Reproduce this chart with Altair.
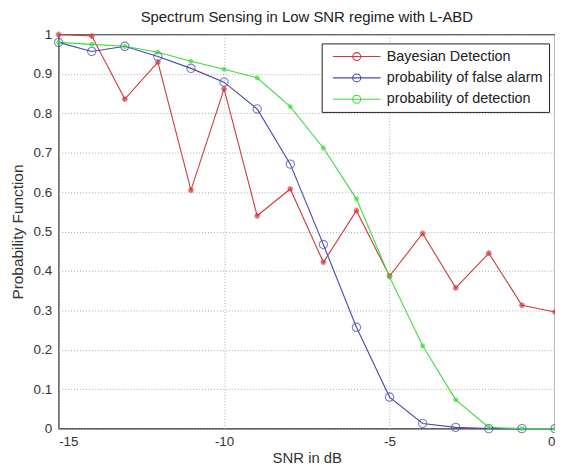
import altair as alt
import pandas as pd

snr = [-15, -14, -13, -12, -11, -10, -9, -8, -7, -6, -5, -4, -3, -2, -1, 0]
bayesian = [1.0, 0.996, 0.836, 0.93, 0.605, 0.862, 0.54, 0.608, 0.422, 0.553, 0.387, 0.495, 0.357, 0.445, 0.313, 0.296]
false_alarm = [0.98, 0.957, 0.97, 0.944, 0.914, 0.879, 0.811, 0.671, 0.467, 0.257, 0.08, 0.013, 0.003, 0.0, 0.0, 0.0]
detection = [0.98, 0.975, 0.97, 0.955, 0.932, 0.912, 0.89, 0.817, 0.712, 0.583, 0.385, 0.21, 0.073, 0.003, 0.0, 0.0]

names = ["Bayesian Detection", "probability of false alarm", "probability of detection"]
colors = ["#d03a3a", "#4848b4", "#3cdc3c"]

rows = []
for name, vals in zip(names, [bayesian, false_alarm, detection]):
    for s, v in zip(snr, vals):
        rows.append({"snr": s, "value": v, "series": name})
df = pd.DataFrame(rows)

FONT = "Liberation Sans"
asterisk = "M-1,0H1M0,-1V1M-0.7,-0.7L0.7,0.7M-0.7,0.7L0.7,-0.7"
legend_sym = "M-1,0H11M4,0A1,1 0 1,1 6,0A1,1 0 1,1 4,0"

x = alt.X("snr:Q", title="SNR in dB",
          scale=alt.Scale(domain=[-15, 0], nice=False, zero=False),
          axis=alt.Axis(values=[-15, -10, -5, 0], labelExpr="'' + datum.value", grid=True))
y = alt.Y("value:Q", title="Probability Function",
          scale=alt.Scale(domain=[0, 1], nice=False),
          axis=alt.Axis(values=[0, 0.1, 0.2, 0.3, 0.4, 0.5, 0.6, 0.7, 0.8, 0.9, 1.0], format="~g", grid=True))

base = alt.Chart(df)

lines = base.mark_line(strokeWidth=1.1).encode(
    x=x, y=y,
    color=alt.Color("series:N", scale=alt.Scale(domain=names, range=colors),
                    legend=alt.Legend(title=None, orient="none", legendX=265, legendY=9,
                                      direction="vertical", columns=1,
                                      symbolType=legend_sym, symbolSize=64,
                                      symbolStrokeWidth=1.1, symbolOffset=2,
                                      labelOffset=43, labelFontSize=14.5, labelFont=FONT,
                                      labelAlign="left",
                                      labelColor="#222", strokeColor="#222", fillColor="white",
                                      padding=6, rowPadding=6.5, labelLimit=300)),
    order="snr:Q",
)

red_pts = base.transform_filter(alt.datum.series == names[0]).mark_point(
    shape=asterisk, size=34, color=colors[0], filled=False, strokeWidth=1.5
).encode(x=x, y=y)

blue_pts = base.transform_filter(alt.datum.series == names[1]).mark_point(
    shape="circle", size=70, color=colors[1], filled=False, strokeWidth=1.1
).encode(x=x, y=y)

green_pts = base.transform_filter(alt.datum.series == names[2]).mark_point(
    shape=asterisk, size=24, color=colors[2], filled=False, strokeWidth=1.5
).encode(x=x, y=y)

chart = alt.layer(lines, red_pts, blue_pts, green_pts).properties(
    width=500, height=397,
    title=alt.TitleParams("Spectrum Sensing in Low SNR regime with L-ABD", fontSize=15,
                          fontWeight="normal", font=FONT, color="#222", offset=3),
    autosize=alt.AutoSizeParams(type="none"),
    padding={"left": 51, "top": 25, "right": 0, "bottom": 36},
).configure_view(stroke="#222", strokeWidth=1.2).configure_axis(
    domain=False, ticks=False, gridColor="#aaa", gridDash=[1, 2], gridWidth=1,
    labelFont=FONT, labelFontSize=13.5, labelColor="#333", titleFont=FONT,
    titleFontSize=15, titleFontWeight="normal", titleColor="#333",
).configure_axisY(labelPadding=7, titlePadding=8, titleFontSize=15.5).configure_axisX(labelPadding=6, titlePadding=3)

chart.save("out.html", embed_options={"renderer": "svg", "actions": False})
